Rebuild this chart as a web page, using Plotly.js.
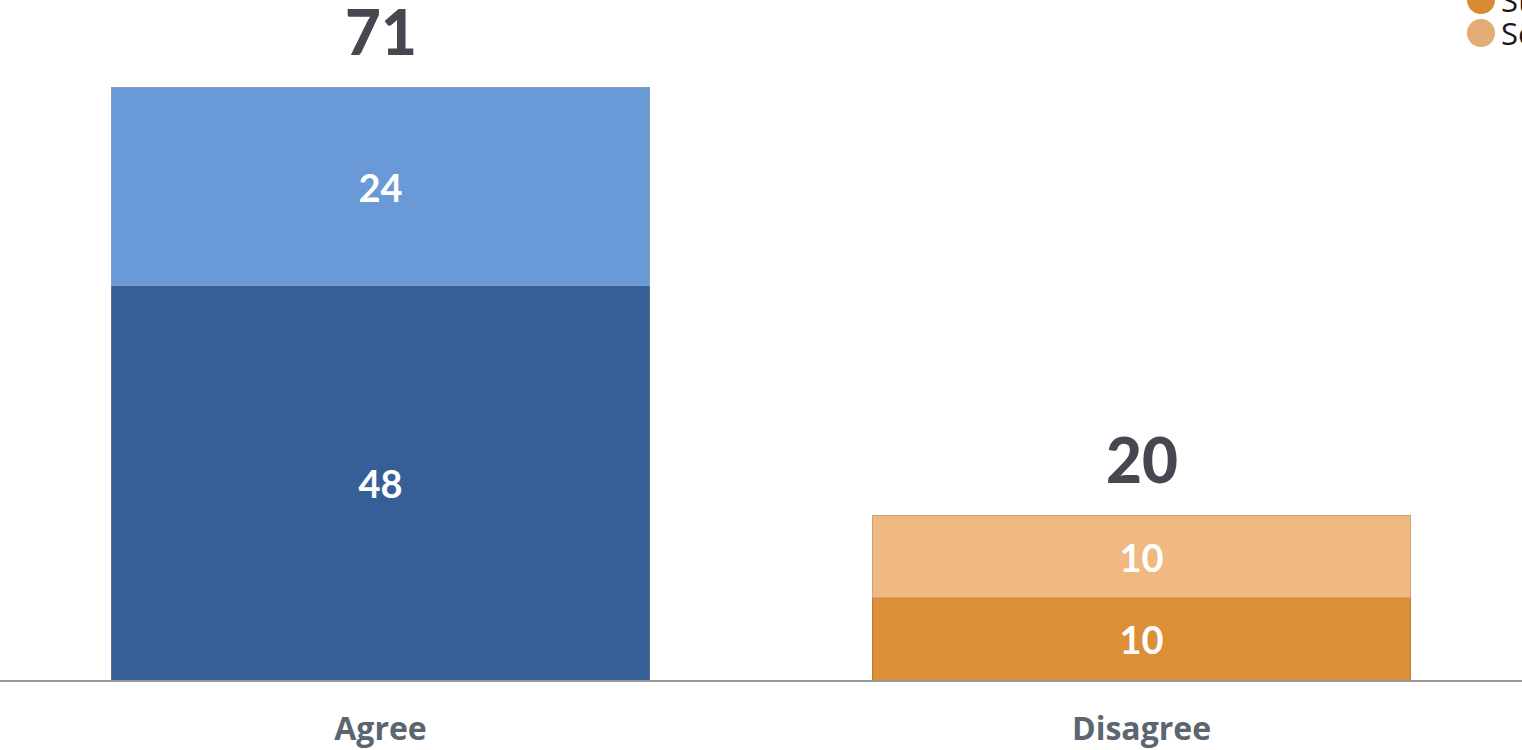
<!DOCTYPE html>
<html>
<head>
<meta charset="utf-8">
<script src="https://cdn.plot.ly/plotly-3.0.1.min.js"></script>
<style>html,body{margin:0;padding:0;background:#fff;}#chart{width:1522px;height:750px;}</style>
</head>
<body>
<div id="chart"></div>
<script>
// ---- data ----
const categories = ["Agree", "Disagree"];
const seriesNames = ["Strongly agree", "Somewhat agree", "Strongly disagree", "Somewhat disagree"];
const stronglyAgree = [48, null];
const somewhatAgree = [24, null];
const stronglyDisagree = [null, 10];
const somewhatDisagree = [null, 10];
const totals = [71, 20];

const colors = ["#365F97", "#6A99D7", "#DC8F37", "#F0B981"];
const lineColors = ["#5A6E8A", "#7F9CC4", "#B57A3A", "#C9A27A"];
const legendColors = ["#365F97", "#6A99D7", "#DA8A32", "#E3AC75"];

const seriesVals = [stronglyAgree, somewhatAgree, stronglyDisagree, somewhatDisagree];

const traces = seriesVals.map((vals, i) => ({
  type: "bar",
  name: seriesNames[i],
  x: categories,
  y: vals,
  text: vals.map(v => v == null ? "" : String(v)),
  textposition: "inside",
  insidetextanchor: "middle",
  textangle: 0,
  textfont: {family: "Lato, 'Open Sans', sans-serif", size: 38, color: "#ffffff", weight: "bold"},
  marker: {color: colors[i], line: {color: lineColors[i], width: 1}},
  showlegend: false,
  hoverinfo: "skip"
}));

// stacked tops for the total labels
const stackTops = categories.map((c, j) => seriesVals.reduce((s, arr) => s + (arr[j] || 0), 0));

const annotations = categories.map((c, j) => ({
  x: c, y: stackTops[j], xref: "x", yref: "y",
  text: String(totals[j]),
  showarrow: false, yanchor: "bottom", yshift: 18,
  font: {family: "Lato, 'Open Sans', sans-serif", size: 62, color: "#45484F", weight: 900}
}));

// custom legend at top right; only the entries that fall on the canvas are drawn
const legendTopPx = [-66, -33, 0, 33];
const shapes = [];
const plotH = 680;
seriesNames.forEach((n, i) => {
  if (legendTopPx[i] < 0) return;
  const yp = 1 - legendTopPx[i] / plotH;
  shapes.push({
    type: "circle", xref: "paper", yref: "paper",
    xsizemode: "pixel", ysizemode: "pixel",
    xanchor: 1481 / 1522, yanchor: yp,
    x0: -14, x1: 14, y0: -14, y1: 14,
    fillcolor: legendColors[i], line: {width: 0}
  });
  annotations.push({
    xref: "paper", yref: "paper", x: 1499 / 1522, y: yp,
    xanchor: "left", yanchor: "middle", showarrow: false,
    text: n, font: {family: "'Open Sans', sans-serif", size: 31, color: "#1a1a1a"}
  });
});

const layout = {
  width: 1522, height: 750,
  margin: {l: 0, r: 0, t: 0, b: 70, autoexpand: false},
  paper_bgcolor: "#ffffff", plot_bgcolor: "#ffffff",
  barmode: "stack",
  bargap: 0.293,
  showlegend: false,
  xaxis: {
    type: "category",
    showline: true, linecolor: "#9A9A9A", linewidth: 2,
    showgrid: false, zeroline: false, ticks: "",
    ticklabelstandoff: 20,
    tickfont: {family: "'Open Sans', sans-serif", size: 32, color: "#5C6670", weight: "bold"}
  },
  yaxis: {range: [0, 82.7], visible: false, showgrid: false, zeroline: false},
  annotations: annotations,
  shapes: shapes
};

Plotly.newPlot("chart", traces, layout, {staticPlot: true, displayModeBar: false});
</script>
</body>
</html>
